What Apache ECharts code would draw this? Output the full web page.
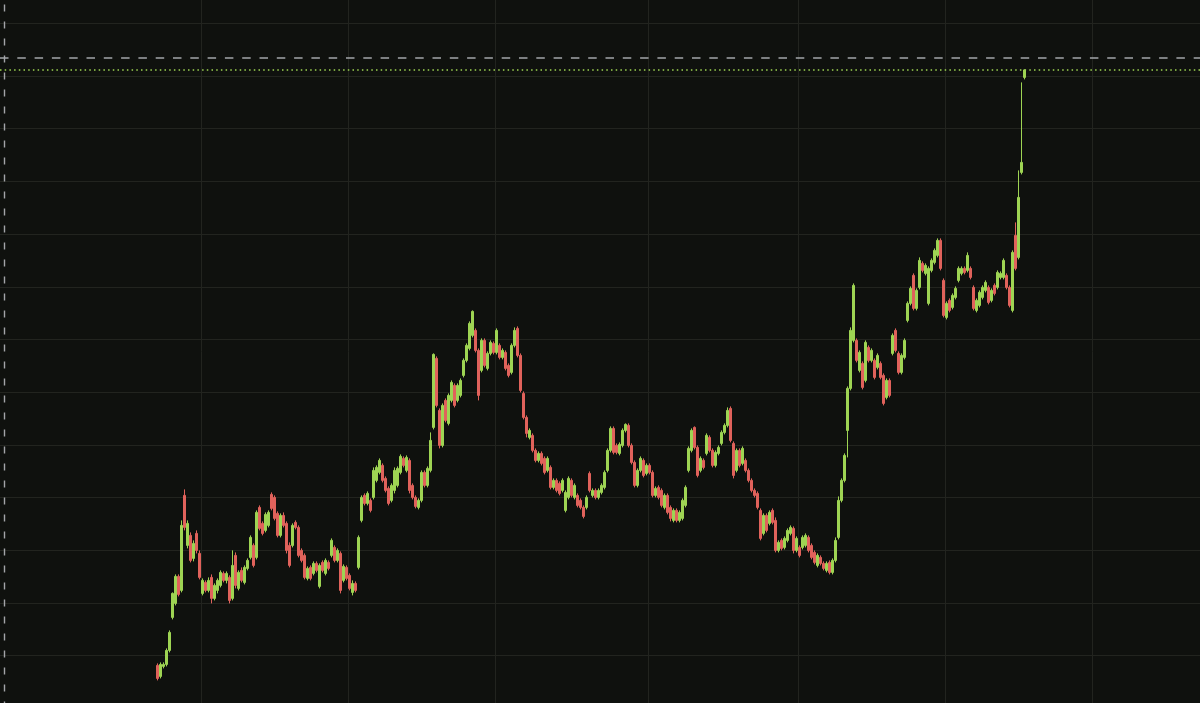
<!DOCTYPE html>
<html>
<head>
<meta charset="utf-8">
<script src="https://cdn.jsdelivr.net/npm/echarts@6/dist/echarts.min.js"></script>
<style>
html,body{margin:0;padding:0;background:#0f110e;}
#chart{width:1200px;height:703px;}
</style>
</head>
<body>
<div id="chart"></div>
<script>
// candle slots on the time axis (hidden labels) and first occupied slot
const slotCount = 400;
const firstSlot = 52;
const gridLineSlots = [67, 116, 165, 216, 266, 315, 364];

const opens = [
43,32,42,44,58,91,105,132,118,213,
163,173,150,175,155,115,126,118,131,110,
118,123,135,128,131,110,153,120,138,126,
140,151,163,151,201,185,178,183,214,211,
195,173,193,185,163,163,186,181,158,153,
130,141,135,145,122,146,135,146,153,161,
148,155,128,141,133,116,125,141,188,213,
205,208,211,228,236,243,230,220,208,218,
223,236,250,238,248,223,211,201,208,236,
223,238,281,350,298,263,308,285,308,323,
308,313,333,348,360,373,378,358,338,368,
340,355,365,356,363,351,356,343,336,363,
380,353,315,291,271,273,258,248,255,250,
238,241,221,228,225,218,198,211,228,211,
213,208,201,201,235,213,218,211,216,221,
238,258,280,263,255,263,278,283,263,246,
223,238,248,235,243,236,213,221,218,201,
213,201,188,198,188,190,203,238,258,281,
261,238,248,255,271,258,243,255,265,276,
283,300,265,238,258,245,248,238,228,218,
215,198,175,193,185,198,188,158,168,161,
168,175,180,158,161,161,163,171,163,156,
143,151,145,138,146,136,148,171,208,228,
278,320,368,368,338,345,328,361,348,348,
341,345,333,311,328,355,378,355,336,351,
388,405,433,400,421,445,435,405,438,446,
453,468,428,391,408,401,411,428,435,440,
438,440,421,398,403,411,418,421,408,423,
421,431,431,433,421,398,473,451,536,631
];
const closes = [
30,44,44,58,76,115,132,114,183,181,
185,148,165,158,131,128,118,128,110,123,
128,136,128,135,108,143,123,136,128,141,
148,171,143,196,180,175,194,196,200,190,
173,193,183,158,143,183,181,153,148,131,
140,130,145,138,143,138,148,140,168,148,
158,118,142,130,120,125,118,171,211,205,
215,198,238,241,248,228,218,205,223,238,
240,252,243,251,218,211,202,208,236,223,
240,268,354,303,263,303,288,313,326,303,
323,328,348,363,385,397,358,313,368,343,
355,366,356,378,351,358,340,333,363,378,
353,318,291,275,278,258,248,255,245,236,
250,221,228,218,215,228,216,230,213,223,
203,201,192,211,218,218,211,218,223,236,
258,280,256,256,264,278,284,263,246,223,
238,250,233,243,236,213,220,211,203,213,
196,190,198,188,196,208,221,260,278,261,
233,250,241,273,258,243,256,261,276,283,
298,268,233,258,243,260,238,228,218,213,
201,170,193,178,196,186,158,166,160,170,
178,181,158,170,153,171,173,158,151,146,
153,145,140,145,136,148,168,208,228,253,
320,378,423,348,356,321,366,348,358,331,
353,331,305,328,313,373,358,336,353,368,
405,420,400,418,448,438,443,440,448,458,
468,440,393,405,398,413,420,440,440,436,
453,431,400,408,416,421,426,406,418,415,
436,435,448,421,403,456,440,511,546,638.5
];
const lows = [
28,30,40,42,56,89,103,112,116,178,
160,146,147,155,129,113,116,116,105,108,
115,121,126,125,105,108,120,118,126,124,
138,149,141,149,178,173,176,181,198,188,
171,171,181,155,141,161,179,151,146,129,
128,128,133,136,120,136,133,138,151,146,
146,115,126,128,118,113,116,139,186,203,
203,196,209,226,234,226,216,203,206,215,
221,234,241,236,215,209,200,199,206,221,
221,236,279,301,260,261,286,283,306,301,
306,311,331,346,358,371,356,308,336,341,
338,353,354,354,349,349,338,331,334,361,
351,316,289,271,269,256,246,246,243,234,
236,219,219,216,213,216,196,209,211,209,
201,199,190,199,216,211,209,209,214,219,
236,256,254,254,253,261,276,261,244,221,
221,236,231,233,234,211,211,209,201,199,
194,187,186,186,186,188,201,236,256,259,
231,236,239,253,256,241,241,253,263,274,
281,266,230,236,241,243,236,226,216,211,
199,168,173,176,183,184,156,156,158,159,
166,173,155,156,151,159,161,156,149,144,
141,143,138,136,134,134,146,169,206,226,
251,318,366,346,336,319,326,346,346,329,
339,329,303,309,311,353,356,334,334,349,
386,403,398,398,419,436,433,403,436,444,
451,438,391,389,396,399,409,426,433,434,
436,429,398,396,401,409,416,404,406,413,
419,429,429,419,401,396,438,449,534,629
];
const highs = [
45,46,46,60,78,116,134,134,188,219,
188,176,168,178,158,130,128,131,134,125,
130,138,137,137,133,158,156,138,141,143,
150,173,165,198,203,187,196,198,216,213,
197,195,196,187,166,185,188,183,160,155,
142,143,147,147,145,148,150,148,170,163,
160,157,144,143,135,128,127,173,213,215,
217,210,241,243,250,245,232,222,225,241,
242,254,252,253,250,225,213,210,238,238,
242,276,355,352,300,305,310,315,328,325,
325,330,350,365,387,398,380,360,370,370,
357,368,367,380,365,360,358,345,365,381,
382,355,317,293,280,275,260,257,257,252,
252,243,230,230,227,230,218,232,230,225,
215,210,203,213,237,220,220,220,225,238,
260,282,282,265,266,280,285,285,265,248,
240,252,250,245,245,238,222,223,220,215,
215,203,200,200,198,210,223,262,280,282,
263,252,250,275,273,260,258,263,278,285,
301,302,267,260,260,262,250,240,230,220,
217,200,195,195,198,200,191,168,170,172,
180,183,182,172,163,173,175,173,165,158,
155,153,147,147,148,150,171,212,230,255,
322,381,425,370,358,347,368,363,360,350,
355,347,335,330,330,375,380,357,355,370,
407,422,435,420,451,447,445,442,450,460,
470,470,430,407,410,415,422,442,442,442,
456,442,423,410,418,423,428,423,420,425,
438,437,450,435,423,458,486,538,626,639
];
const crosshairPrice = 650.7;
const crosshairSlot = 1;

const categories = Array.from({length: slotCount}, (_, i) => String(i));
const rows = opens.map((o, k) => [firstSlot + k, o, closes[k], lows[k], highs[k]]);
const lastClose = closes[closes.length - 1];

const UP = '#9ed453', DOWN = '#e0625b', GRID = '#22241f';

const chart = echarts.init(document.getElementById('chart'), null, {renderer: 'canvas'});
chart.setOption({
  backgroundColor: '#0f110e',
  animation: false,
  grid: {left: 0, right: 0, top: -29.4, bottom: -5.4, outerBoundsMode: 'none', containLabel: false},
  xAxis: {
    type: 'category',
    data: categories,
    boundaryGap: true,
    axisLine: {show: false},
    axisTick: {show: false},
    axisLabel: {show: false},
    splitLine: {
      show: true,
      interval: (idx) => gridLineSlots.indexOf(idx) >= 0,
      lineStyle: {color: GRID, width: 1}
    }
  },
  yAxis: {
    type: 'value',
    min: 0,
    max: 737.8,
    interval: 52.7,
    axisLine: {show: false},
    axisTick: {show: false},
    axisLabel: {show: false},
    splitLine: {show: true, lineStyle: {color: GRID, width: 1}}
  },
  series: [{
    type: 'candlestick',
    data: rows,
    encode: {x: 0, y: [1, 2, 3, 4]},
    barWidth: 2,
    itemStyle: {
      color: UP, color0: DOWN,
      borderColor: UP, borderColor0: DOWN,
      borderWidth: 1
    },
    markLine: {
      silent: true,
      symbol: 'none',
      label: {show: false},
      animation: false,
      data: [
        {yAxis: lastClose, lineStyle: {color: UP, type: [1.5, 3.2], width: 1.5}},
        {yAxis: crosshairPrice, lineStyle: {color: '#a3a5a9', type: [8.5, 8.8], width: 1.6}},
        {xAxis: crosshairSlot, lineStyle: {color: '#a3a5a9', type: [7, 10], width: 1.4}}
      ]
    }
  }]
});
</script>
</body>
</html>
